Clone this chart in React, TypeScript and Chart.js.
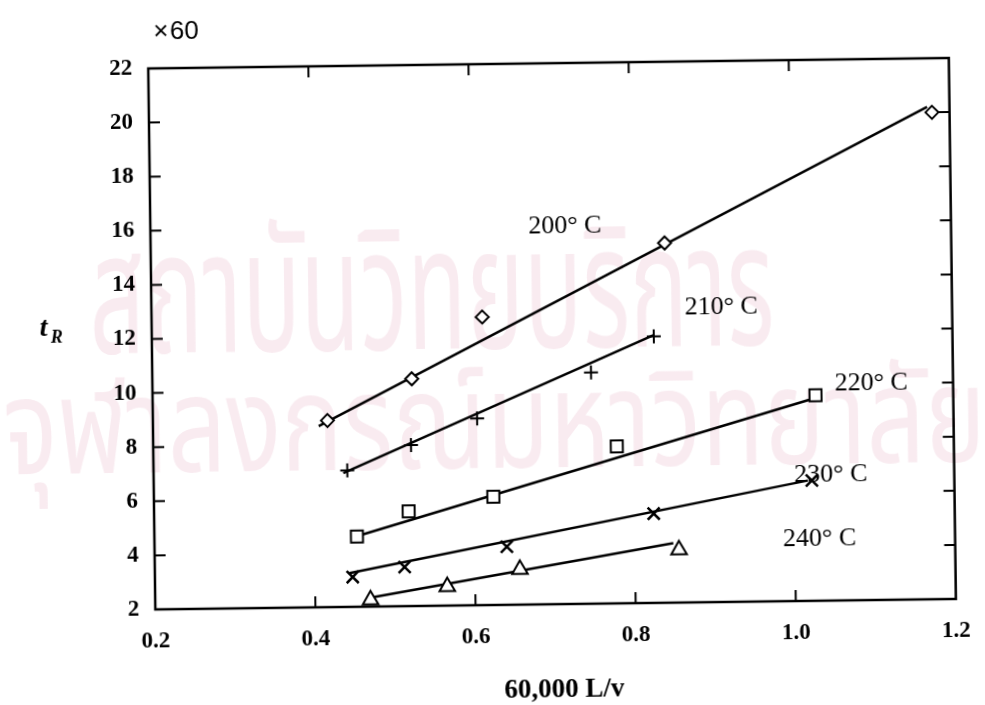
import React, { useEffect, useRef } from "react";
import { Chart, registerables } from "chart.js";

Chart.register(...registerables);

// Axis ticks
const xTicks = [0.2, 0.4, 0.6, 0.8, 1.0, 1.2];
const yTicks = [2, 4, 6, 8, 10, 12, 14, 16, 18, 20, 22];

// Column temperatures
const seriesNames = ["200° C", "210° C", "220° C", "230° C", "240° C"];

// Measured retention times (×60) against 60,000 L/v
const x200 = [0.418, 0.524, 0.613, 0.842, 1.178];
const y200 = [8.9, 10.4, 12.65, 15.3, 20.0];
const x210 = [0.442, 0.522, 0.605, 0.748, 0.827];
const y210 = [7.05, 7.95, 8.9, 10.55, 11.85];
const x220 = [0.453, 0.518, 0.624, 0.779, 1.028];
const y220 = [4.6, 5.5, 6.0, 7.8, 9.6];
const x230 = [0.447, 0.512, 0.64, 0.824, 1.022];
const y230 = [3.1, 3.45, 4.15, 5.3, 6.45];
const x240 = [0.469, 0.565, 0.656, 0.855];
const y240 = [2.25, 2.7, 3.3, 3.95];

// Fitted straight lines (end points)
const fitX200 = [0.407, 1.172];
const fitY200 = [8.7, 20.2];
const fitX210 = [0.437, 0.827];
const fitY210 = [6.95, 11.9];
const fitX220 = [0.458, 1.022];
const fitY220 = [4.65, 9.45];
const fitX230 = [0.443, 1.017];
const fitY230 = [3.25, 6.45];
const fitX240 = [0.473, 0.848];
const fitY240 = [2.35, 4.2];

// Where each temperature label sits, in data units
const labelX = [0.672, 0.866, 1.052, 1.0, 0.985];
const labelY = [15.96, 12.9, 10.0, 6.65, 4.3];

const xTitle = "60,000 L/v";
const yTitle = "t";
const yTitleSub = "R";
const yFactor = "60";
const watermarkLines = ["สถาบันวิทยบริการ", "จุฬาลงกรณ์มหาวิทยาลัย"];

const SERIF = '"Liberation Serif", "Times New Roman", serif';

const toPoints = (xs: number[], ys: number[]) => xs.map((x, i) => ({ x, y: ys[i] }));

const markerStyles = [
  { pointStyle: "rectRot", radius: 6.5, width: 2 },
  { pointStyle: "cross", radius: 7, width: 2 },
  { pointStyle: "rect", radius: 8.5, width: 2 },
  { pointStyle: "crossRot", radius: 8.5, width: 2.5 },
  { pointStyle: "triangle", radius: 9, width: 2 },
];

const watermarkPlugin = {
  id: "watermark",
  beforeDraw(chart: any) {
    const { ctx } = chart;
    ctx.save();
    ctx.fillStyle = "#f9ebf0";
    ctx.textBaseline = "alphabetic";
    ctx.textAlign = "left";
    const rows = [
      { text: watermarkLines[0], left: 90, right: 775, base: 348, size: 170 },
      { text: watermarkLines[1], left: 2, right: 985, base: 468, size: 135 },
    ];
    rows.forEach((r) => {
      ctx.font = `${r.size}px "Noto Sans Thai", "Noto Sans", "DejaVu Sans", sans-serif`;
      const w = ctx.measureText(r.text).width;
      ctx.save();
      ctx.translate(r.left, r.base);
      ctx.scale((r.right - r.left) / w, 1);
      ctx.fillText(r.text, 0, 0);
      ctx.restore();
    });
    ctx.restore();
  },
};

const framePlugin = {
  id: "frame",
  afterDatasetsDraw(chart: any) {
    const { ctx, chartArea: a, scales } = chart;
    const L = 11;
    ctx.save();
    ctx.strokeStyle = "#000";
    ctx.lineWidth = 2.5;
    ctx.strokeRect(a.left, a.top, a.right - a.left, a.bottom - a.top);
    ctx.lineWidth = 2;
    ctx.beginPath();
    xTicks.slice(1, -1).forEach((v) => {
      const px = scales.x.getPixelForValue(v);
      ctx.moveTo(px, a.bottom);
      ctx.lineTo(px, a.bottom - L);
      ctx.moveTo(px, a.top);
      ctx.lineTo(px, a.top + L);
    });
    yTicks.slice(1, -1).forEach((v) => {
      const py = scales.y.getPixelForValue(v);
      ctx.moveTo(a.left, py);
      ctx.lineTo(a.left + L, py);
      ctx.moveTo(a.right, py);
      ctx.lineTo(a.right - L, py);
    });
    ctx.stroke();
    ctx.restore();
  },
};

const textPlugin = {
  id: "texts",
  afterDraw(chart: any) {
    const { ctx, scales } = chart;
    ctx.save();
    ctx.fillStyle = "#000";
    ctx.textBaseline = "middle";
    ctx.textAlign = "left";
    ctx.font = `26px ${SERIF}`;
    seriesNames.forEach((name, i) => {
      ctx.fillText(name, scales.x.getPixelForValue(labelX[i]), scales.y.getPixelForValue(labelY[i]));
    });

    ctx.textAlign = "center";
    ctx.font = `bold 27px ${SERIF}`;
    ctx.fillText(xTitle, 560, 691);

    ctx.textAlign = "left";
    ctx.textBaseline = "alphabetic";
    ctx.font = `italic bold 28px ${SERIF}`;
    ctx.fillText(yTitle, 40, 330);
    ctx.font = `italic bold 18px ${SERIF}`;
    ctx.fillText(yTitleSub, 51, 337);

    ctx.textBaseline = "middle";
    ctx.font = `26px "Liberation Sans", Arial, sans-serif`;
    ctx.textAlign = "center";
    ctx.fillText("×", 165, 28);
    ctx.textAlign = "left";
    ctx.fillText(yFactor, 174, 28);
    ctx.restore();
  },
};

export default function App() {
  const canvasRef = useRef<HTMLCanvasElement | null>(null);

  useEffect(() => {
    if (!canvasRef.current) return;
    const groups = [
      [x200, y200, fitX200, fitY200],
      [x210, y210, fitX210, fitY210],
      [x220, y220, fitX220, fitY220],
      [x230, y230, fitX230, fitY230],
      [x240, y240, fitX240, fitY240],
    ];
    const markerSets = groups.map((g, i) => ({
      label: seriesNames[i],
      data: toPoints(g[0], g[1]),
      showLine: false,
      pointStyle: markerStyles[i].pointStyle,
      pointRadius: markerStyles[i].radius,
      pointBorderWidth: markerStyles[i].width,
      pointBorderColor: "#000",
      pointBackgroundColor: "#fff",
      order: 1,
    }));
    const fitSets = groups.map((g, i) => ({
      label: seriesNames[i] + " fit",
      data: toPoints(g[2], g[3]),
      showLine: true,
      borderColor: "#000",
      borderWidth: 2.5,
      pointRadius: 0,
      order: 2,
    }));

    const tickFont = { family: SERIF, size: 23, weight: "bold" as const };

    const chart = new Chart(canvasRef.current, {
      type: "scatter",
      data: { datasets: [...markerSets, ...fitSets] as any },
      options: {
        animation: false,
        responsive: true,
        maintainAspectRatio: false,
        layout: { padding: { left: 0, right: 32, top: 64, bottom: 0 } },
        plugins: { legend: { display: false }, tooltip: { enabled: false } },
        scales: {
          x: {
            type: "linear",
            min: 0.2,
            max: 1.2,
            grid: { display: false, drawTicks: false },
            border: { display: false },
            afterBuildTicks: (s: any) => {
              s.ticks = xTicks.map((value) => ({ value }));
            },
            afterFit: (s: any) => {
              s.height = 100;
            },
            ticks: {
              color: "#000",
              font: tickFont,
              padding: 18,
              maxRotation: 0,
              callback: (v: any) => Number(v).toFixed(1),
            },
          },
          y: {
            type: "linear",
            min: 2,
            max: 22,
            grid: { display: false, drawTicks: false },
            border: { display: false },
            afterBuildTicks: (s: any) => {
              s.ticks = yTicks.map((value) => ({ value }));
            },
            afterFit: (s: any) => {
              s.width = 152;
            },
            ticks: {
              color: "#000",
              font: tickFont,
              padding: 16,
              callback: (v: any) => String(v),
            },
          },
        },
      },
      plugins: [watermarkPlugin, framePlugin, textPlugin],
    });
    return () => chart.destroy();
  }, []);

  return (
    <div style={{ position: "fixed", left: 0, top: 0, width: 985, height: 705, background: "#fff", overflow: "hidden" }}>
      <div style={{ width: 985, height: 705, transform: "rotate(-0.75deg)" }}>
        <canvas ref={canvasRef} />
      </div>
    </div>
  );
}
